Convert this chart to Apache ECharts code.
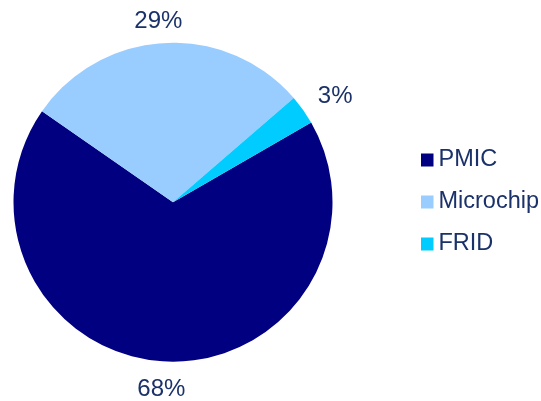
<!DOCTYPE html>
<html>
<head>
<meta charset="utf-8">
<script src="https://cdn.jsdelivr.net/npm/echarts@6/dist/echarts.min.js"></script>
<style>
  html, body { margin: 0; padding: 0; background: #ffffff; }
  #chart { width: 541px; height: 401px; }
</style>
</head>
<body>
<div id="chart"></div>
<script>
// Market share by product line (percent)
const categories = ['PMIC', 'Microchip', 'FRID'];
const shares = [68, 29, 3];
const sliceColors = ['#000080', '#99CCFF', '#00CCFF'];

// Pie geometry
const CX = 173, CY = 202.2, R = 159.5, START_ANGLE = 30;
const LABEL_GAP = 11;
// fine placement of the outside percentage labels
const labelNudge = [[-4, 3.5], [-5, 3], [6, 5.5]];
const TEXT_COLOR = '#1A3169';
const FONT = '"Liberation Sans", Arial, sans-serif';

const total = shares.reduce((a, b) => a + b, 0);
function midAngle(i) {
  let before = 0;
  for (let k = 0; k < i; k++) before += shares[k];
  return (START_ANGLE - 360 * (before + shares[i] / 2) / total) * Math.PI / 180;
}

const chart = echarts.init(document.getElementById('chart'), null, { renderer: 'canvas' });
chart.setOption({
  animation: false,
  backgroundColor: '#ffffff',
  color: sliceColors,
  legend: {
    orient: 'vertical',
    left: 421,
    top: 148,
    padding: 0,
    icon: 'rect',
    itemWidth: 12.5,
    itemHeight: 13,
    itemGap: 18,
    selectedMode: false,
    data: categories,
    textStyle: { fontFamily: FONT, fontSize: 23.5, color: TEXT_COLOR }
  },
  series: [{
    type: 'pie',
    center: [CX, CY],
    radius: R,
    startAngle: START_ANGLE,
    clockwise: true,
    avoidLabelOverlap: false,
    silent: true,
    itemStyle: { borderWidth: 0 },
    label: {
      show: true,
      position: 'outside',
      formatter: p => p.value + '%',
      fontFamily: FONT,
      fontSize: 24,
      color: TEXT_COLOR
    },
    labelLine: { show: false },
    labelLayout: function (params) {
      const i = params.dataIndex;
      const a = midAngle(i);
      const ux = Math.cos(a), uy = -Math.sin(a);
      const w = params.labelRect.width, h = params.labelRect.height;
      const sup = Math.abs(ux) * w / 2 + Math.abs(uy) * h / 2;
      const d = R + LABEL_GAP + sup;
      return {
        x: CX + d * ux + labelNudge[i][0],
        y: CY + d * uy + labelNudge[i][1],
        align: 'center',
        verticalAlign: 'middle'
      };
    },
    data: categories.map((name, i) => ({ name: name, value: shares[i] }))
  }]
});
</script>
</body>
</html>
